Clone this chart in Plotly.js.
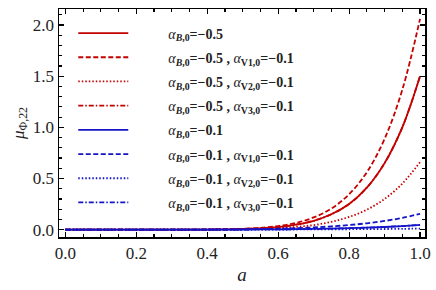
<!DOCTYPE html>
<html>
<head>
<meta charset="utf-8">
<script src="https://cdn.plot.ly/plotly-3.0.1.min.js"></script>
<style>html,body{margin:0;padding:0;background:#fff;}#chart{width:436px;height:290px;}</style>
</head>
<body>
<div id="chart"></div>
<script>
// ---- data ----
const a         = [0, 0.1, 0.2, 0.3, 0.4, 0.45, 0.5, 0.55, 0.6, 0.65, 0.7, 0.75, 0.8, 0.85, 0.9, 0.95, 1.0];
const redB      = [0, 0, 0, 0.0003, 0.001, 0.0025, 0.006, 0.013, 0.025, 0.048, 0.086, 0.15, 0.25, 0.41, 0.65, 1.0, 1.5];
const redB_V1   = [0, 0, 0, 0.0004, 0.0014, 0.0035, 0.008, 0.017, 0.035, 0.066, 0.119, 0.206, 0.346, 0.561, 0.887, 1.367, 2.06];
const redB_V2   = [0, 0, 0, 0.0002, 0.0008, 0.002, 0.004, 0.007, 0.014, 0.026, 0.045, 0.076, 0.124, 0.195, 0.30, 0.45, 0.66];
const redB_V3   = [0, 0, 0, 0.0003, 0.001, 0.0025, 0.006, 0.013, 0.025, 0.048, 0.086, 0.15, 0.25, 0.41, 0.65, 1.0, 1.5];
const blueB     = [0, 0, 0, 0, 0.0002, 0.0005, 0.001, 0.002, 0.003, 0.005, 0.007, 0.010, 0.014, 0.019, 0.026, 0.035, 0.047];
const blueB_V1  = [0, 0, 0, 0.0002, 0.001, 0.002, 0.003, 0.005, 0.009, 0.015, 0.022, 0.032, 0.045, 0.062, 0.085, 0.115, 0.155];
const blueB_V2  = [0, 0, 0, 0, 0, 0, 0.0002, 0.0005, 0.001, 0.0015, 0.002, 0.003, 0.004, 0.005, 0.006, 0.008, 0.01];
const blueB_V3  = [0, 0, 0, 0, 0.0002, 0.0005, 0.001, 0.002, 0.003, 0.005, 0.007, 0.010, 0.014, 0.019, 0.026, 0.035, 0.047];

const labels = [
  "<i>α</i><sub><b><i>B</i>,0</b></sub><b>=−0.5</b>",
  "<i>α</i><sub><b><i>B</i>,0</b></sub><b>=−0.5 , </b><i>α</i><sub><b>V1,0</b></sub><b>=−0.1</b>",
  "<i>α</i><sub><b><i>B</i>,0</b></sub><b>=−0.5 , </b><i>α</i><sub><b>V2,0</b></sub><b>=−0.1</b>",
  "<i>α</i><sub><b><i>B</i>,0</b></sub><b>=−0.5 , </b><i>α</i><sub><b>V3,0</b></sub><b>=−0.1</b>",
  "<i>α</i><sub><b><i>B</i>,0</b></sub><b>=−0.1</b>",
  "<i>α</i><sub><b><i>B</i>,0</b></sub><b>=−0.1 , </b><i>α</i><sub><b>V1,0</b></sub><b>=−0.1</b>",
  "<i>α</i><sub><b><i>B</i>,0</b></sub><b>=−0.1 , </b><i>α</i><sub><b>V2,0</b></sub><b>=−0.1</b>",
  "<i>α</i><sub><b><i>B</i>,0</b></sub><b>=−0.1 , </b><i>α</i><sub><b>V3,0</b></sub><b>=−0.1</b>"
];
const series = [redB, redB_V1, redB_V2, redB_V3, blueB, blueB_V1, blueB_V2, blueB_V3];

// ---- styles ----
const RED = '#c40000', BLUE = '#1414c8';
const colors = [RED, RED, RED, RED, BLUE, BLUE, BLUE, BLUE];
const dashes = ['solid', '5px,2.5px', '1.5px,2px', '5px,2px,1.5px,2px', 'solid', '5px,2.5px', '1.5px,2px', '5px,2px,1.5px,2px'];
const PAD = '\u00a0'.repeat(10); // gap between legend sample and its text

const traces = series.map((ys, i) => ({
  x: a, y: ys, type: 'scatter', mode: 'lines', name: PAD + labels[i],
  legendgroup: 'g' + i,
  line: {color: colors[i], width: 1.8, dash: dashes[i], shape: 'spline', smoothing: 1}
}));

const FONT = '"Liberation Serif", "Times New Roman", serif';
const axisCommon = {
  showline: true, mirror: 'allticks', linecolor: '#000', linewidth: 1.5,
  ticks: 'inside', ticklen: 5, tickwidth: 1.2, tickcolor: '#000',
  showgrid: false, zeroline: false,
  tickfont: {family: FONT, size: 17, color: '#222'}
};

const layout = {
  width: 436, height: 290,
  margin: {l: 59, r: 11, t: 9, b: 53},
  paper_bgcolor: '#fff', plot_bgcolor: '#fff',
  font: {family: FONT, color: '#222'},
  showlegend: true,
  legend: {
    x: 0.039, y: 0.963, xanchor: 'left', yanchor: 'top',
    bgcolor: 'rgba(0,0,0,0)', borderwidth: 0,
    font: {family: FONT, size: 14, color: '#222'},
    itemwidth: 50, traceorder: 'grouped', tracegroupgap: 3
  },
  xaxis: Object.assign({}, axisCommon, {
    range: [-0.018, 1.014], tick0: 0, dtick: 0.2, tickformat: '.1f',
    minor: {dtick: 0.05, ticklen: 3, tickcolor: '#000', ticks: 'inside'},
    title: {text: '<i>a</i>', font: {family: FONT, size: 19, color: '#222'}, standoff: 6}
  }),
  yaxis: Object.assign({}, axisCommon, {
    range: [-0.072, 2.157], tick0: 0, dtick: 0.5, tickformat: '.1f',
    minor: {dtick: 0.1, ticklen: 3, tickcolor: '#000', ticks: 'inside'},
    title: {text: '<i>μ</i><sub>Φ,22</sub>', font: {family: FONT, size: 17, color: '#222'}, standoff: 4}
  })
};

Plotly.newPlot('chart', traces, layout, {staticPlot: true, displayModeBar: false});
</script>
</body>
</html>
